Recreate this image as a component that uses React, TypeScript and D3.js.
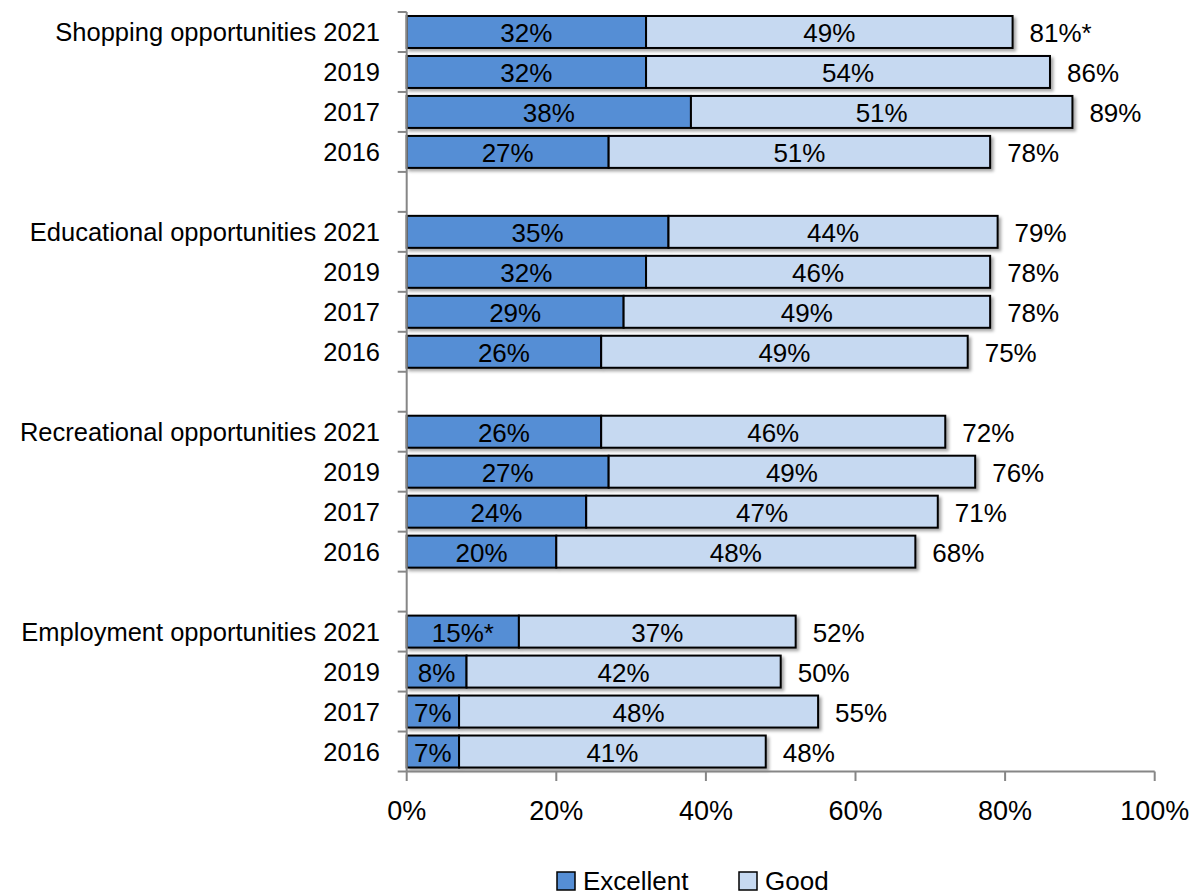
import React from "react";
import * as d3 from "d3";

const groups = [
  "Shopping opportunities",
  "Educational opportunities",
  "Recreational opportunities",
  "Employment opportunities",
];
const years = ["2021", "2019", "2017", "2016"];
const excellent = [32, 32, 38, 27, 35, 32, 29, 26, 26, 27, 24, 20, 15, 8, 7, 7];
const good = [49, 54, 51, 51, 44, 46, 49, 49, 46, 49, 47, 48, 37, 42, 48, 41];
const total = [81, 86, 89, 78, 79, 78, 78, 75, 72, 76, 71, 68, 52, 50, 55, 48];
const starredExcellent = [12];
const starredTotal = [0];
const xTicks = [0, 20, 40, 60, 80, 100];
const seriesNames = ["Excellent", "Good"];

const W = 1196;
const H = 896;
const FONT = "'Liberation Sans', Arial, sans-serif";
const C_EXC = "#558ED5";
const C_GOOD = "#C6D9F1";
const AXIS = "#868686";

type Row = { key: string; label: string; idx: number } | { key: string; gap: true };

export default function App() {
  const rows: Row[] = [];
  groups.forEach((g, gi) => {
    if (gi > 0) rows.push({ key: `gap${gi}`, gap: true });
    years.forEach((yr, yi) => {
      const idx = gi * years.length + yi;
      rows.push({ key: `${gi}-${yr}`, label: yi === 0 ? `${g} ${yr}` : yr, idx });
    });
  });

  const x = d3.scaleLinear().domain([0, 100]).range([406.7, 1154.7]);
  const y = d3
    .scaleBand<string>()
    .domain(rows.map((r) => r.key))
    .range([12, 771.5])
    .paddingInner(0.2)
    .paddingOuter(0.1);

  const step = y.step();
  const top = 12;
  const bottom = 771.5;
  const boundaries = d3.range(rows.length + 1).map((i) => top + i * step);

  return (
    <svg
      width={W}
      height={H}
      style={{ position: "absolute", left: 0, top: 0, background: "#fff" }}
      fontFamily={FONT}
    >
      <defs>
        <filter id="shadow" x="-5%" y="-20%" width="110%" height="160%">
          <feDropShadow dx="2.5" dy="2.5" stdDeviation="1.8" floodColor="#000" floodOpacity="0.35" />
        </filter>
      </defs>

      {/* bars */}
      {rows.map((r) => {
        if ("gap" in r) return null;
        const i = r.idx;
        const y0 = y(r.key)!;
        const bh = y.bandwidth();
        const cy = y0 + bh / 2;
        const e = excellent[i];
        const g = good[i];
        const eLabel = `${e}%${starredExcellent.includes(i) ? "*" : ""}`;
        const tLabel = `${total[i]}%${starredTotal.includes(i) ? "*" : ""}`;
        return (
          <g key={r.key}>
            <g filter="url(#shadow)">
              <rect x={x(0)} y={y0} width={x(e) - x(0)} height={bh} fill={C_EXC} stroke="#000" strokeWidth={2} />
              <rect x={x(e)} y={y0} width={x(e + g) - x(e)} height={bh} fill={C_GOOD} stroke="#000" strokeWidth={2} />
            </g>
            <text x={(x(0) + x(e)) / 2} y={cy + 1} textAnchor="middle" dominantBaseline="central" fontSize={26} fill="#000">
              {eLabel}
            </text>
            <text x={(x(e) + x(e + g)) / 2} y={cy + 1} textAnchor="middle" dominantBaseline="central" fontSize={26} fill="#000">
              {`${g}%`}
            </text>
            <text x={x(e + g) + 17} y={cy + 1} textAnchor="start" dominantBaseline="central" fontSize={26} fill="#000">
              {tLabel}
            </text>
            <text x={380} y={cy} textAnchor="end" dominantBaseline="central" fontSize={25.5} fill="#000">
              {r.label}
            </text>
          </g>
        );
      })}

      {/* y axis */}
      <line x1={x(0)} x2={x(0)} y1={top} y2={bottom} stroke={AXIS} strokeWidth={2} />
      {boundaries.map((b, i) => (
        <line key={i} x1={x(0) - 9} x2={x(0)} y1={b} y2={b} stroke={AXIS} strokeWidth={2} />
      ))}

      {/* x axis */}
      <line x1={x(0)} x2={x(100)} y1={bottom} y2={bottom} stroke={AXIS} strokeWidth={2} />
      {xTicks.map((t) => (
        <g key={t}>
          <line x1={x(t)} x2={x(t)} y1={bottom} y2={bottom + 9.5} stroke={AXIS} strokeWidth={2} />
          <text x={x(t)} y={811} textAnchor="middle" dominantBaseline="central" fontSize={27} fill="#000">
            {`${t}%`}
          </text>
        </g>
      ))}

      {/* legend */}
      {seriesNames.map((s, i) => {
        const lx = i === 0 ? 557 : 739;
        return (
          <g key={s}>
            <rect x={lx} y={872} width={18} height={18} fill={i === 0 ? C_EXC : C_GOOD} stroke="#000" strokeWidth={1.5} />
            <text x={lx + 26} y={890} fontSize={26} fill="#000">
              {s}
            </text>
          </g>
        );
      })}
    </svg>
  );
}
